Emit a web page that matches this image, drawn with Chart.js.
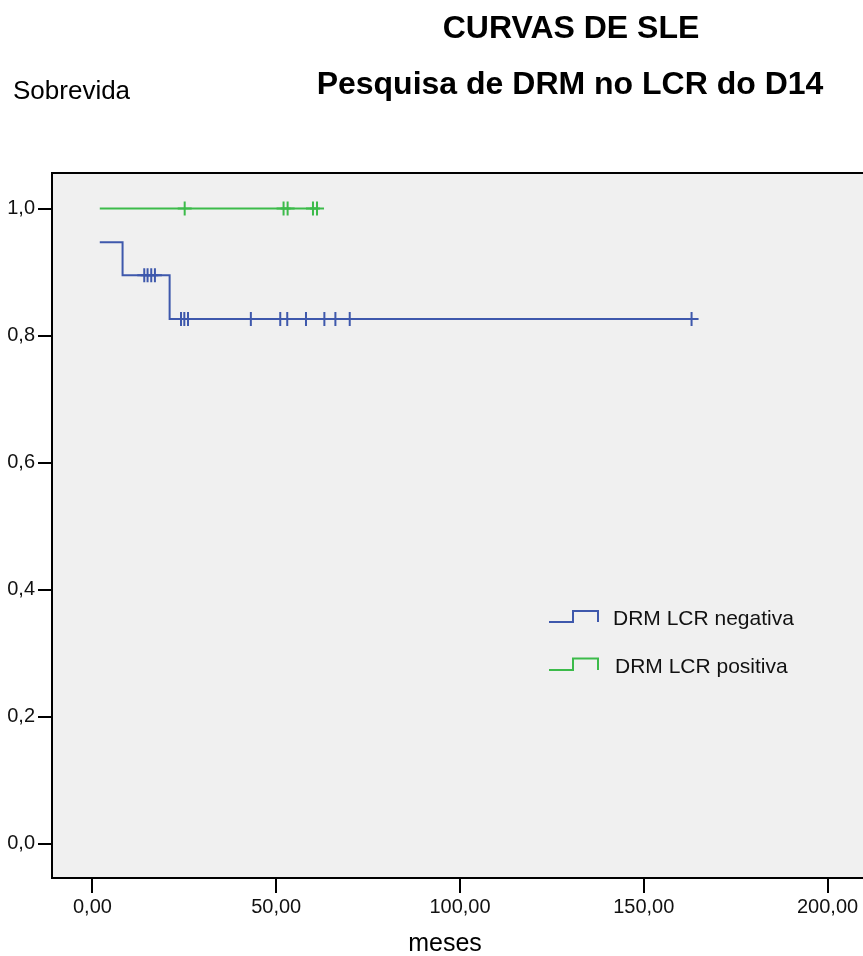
<!DOCTYPE html>
<html>
<head>
<meta charset="utf-8">
<title>CURVAS DE SLE</title>
<script src="https://cdn.jsdelivr.net/npm/chart.js@4/dist/chart.umd.min.js"></script>
<style>
  html, body { margin: 0; padding: 0; background: #ffffff; overflow: hidden; }
  #wrap { position: relative; width: 880px; height: 956px; }
</style>
</head>
<body>
<div id="wrap"><canvas id="km" width="880" height="956"></canvas></div>
<script>
// Kaplan-Meier estimates (months, cumulative survival)
const negTimes = [2.0, 8.2, 21.0, 163.0];
const negSurv = [0.947, 0.895, 0.826, 0.826];
const negCensorTimes = [14.1, 15.0, 16.0, 17.0, 24.1, 25.0, 26.0, 43.1, 51.1, 53.0, 58.1, 63.1, 66.1, 70.0, 163.0];
const negCensorSurv = [0.895, 0.895, 0.895, 0.895, 0.826, 0.826, 0.826, 0.826, 0.826, 0.826, 0.826, 0.826, 0.826, 0.826, 0.826];

const posTimes = [2.0, 61.1];
const posSurv = [1.0, 1.0];
const posCensorTimes = [25.1, 52.0, 53.1, 60.0, 61.1];
const posCensorSurv = [1.0, 1.0, 1.0, 1.0, 1.0];

const seriesNames = ['DRM LCR negativa', 'DRM LCR positiva'];
const xTickValues = [0, 50, 100, 150, 200];
const yTickValues = [0, 0.2, 0.4, 0.6, 0.8, 1.0];
const titleLines = ['CURVAS DE SLE', 'Pesquisa de DRM no LCR do D14'];
const yAxisTitle = 'Sobrevida';
const xAxisTitle = 'meses';

const BLUE = '#3E58AC';
const GREEN = '#3CBB4A';
const FONT = '"Liberation Sans", Arial, sans-serif';

const toXY = (xs, ys) => xs.map((x, i) => ({ x: x, y: ys[i] }));

const stepStyle = (color) => ({
  borderColor: color,
  borderWidth: 2,
  stepped: true,
  pointRadius: 0,
  fill: false,
  tension: 0
});
const censorStyle = (color) => ({
  borderColor: color,
  backgroundColor: color,
  borderWidth: 2,
  pointStyle: 'cross',
  pointRadius: 7,
  showLine: false
});

// Plot background and frame
const framePlugin = {
  id: 'frame',
  beforeDraw(chart) {
    const { ctx, chartArea: a } = chart;
    ctx.save();
    ctx.fillStyle = '#F0F0F0';
    ctx.fillRect(a.left, a.top, a.right - a.left, a.bottom - a.top);
    ctx.restore();
  },
  beforeDatasetsDraw(chart) {
    const { ctx, chartArea: a } = chart;
    ctx.save();
    ctx.strokeStyle = '#000000';
    ctx.lineWidth = 2;
    ctx.strokeRect(a.left, a.top, a.right - a.left, a.bottom - a.top);
    ctx.restore();
  }
};

// Titles, axis names and the step-shaped legend
const textPlugin = {
  id: 'texts',
  afterDraw(chart) {
    const ctx = chart.ctx;
    ctx.save();
    ctx.fillStyle = '#000000';
    ctx.textBaseline = 'alphabetic';

    ctx.font = 'bold 32px ' + FONT;
    ctx.textAlign = 'center';
    ctx.fillText(titleLines[0], 571, 38);
    ctx.fillText(titleLines[1], 570, 94);

    ctx.font = '26px ' + FONT;
    ctx.textAlign = 'left';
    ctx.fillText(yAxisTitle, 13, 99);

    ctx.font = '25px ' + FONT;
    ctx.textAlign = 'center';
    ctx.fillText(xAxisTitle, 445, 951);

    const items = [
      { color: BLUE, base: 622, top: 611, text: seriesNames[0], tx: 613, ty: 625 },
      { color: GREEN, base: 670, top: 658.5, text: seriesNames[1], tx: 615, ty: 673 }
    ];
    items.forEach(it => {
      ctx.strokeStyle = it.color;
      ctx.lineWidth = 2;
      ctx.beginPath();
      ctx.moveTo(549, it.base);
      ctx.lineTo(573, it.base);
      ctx.lineTo(573, it.top);
      ctx.lineTo(598, it.top);
      ctx.lineTo(598, it.base);
      ctx.stroke();
      ctx.font = '21px ' + FONT;
      ctx.textAlign = 'left';
      ctx.fillStyle = '#111111';
      ctx.fillText(it.text, it.tx, it.ty);
    });
    ctx.restore();
  }
};

new Chart(document.getElementById('km'), {
  type: 'line',
  data: {
    datasets: [
      Object.assign({ label: seriesNames[0], data: toXY(negTimes, negSurv) }, stepStyle(BLUE)),
      Object.assign({ label: seriesNames[0] + ' (censurado)', data: toXY(negCensorTimes, negCensorSurv) }, censorStyle(BLUE)),
      Object.assign({ label: seriesNames[1], data: toXY(posTimes, posSurv) }, stepStyle(GREEN)),
      Object.assign({ label: seriesNames[1] + ' (censurado)', data: toXY(posCensorTimes, posCensorSurv) }, censorStyle(GREEN))
    ]
  },
  options: {
    responsive: false,
    animation: false,
    devicePixelRatio: 1,
    layout: { padding: { top: 173, right: 12, bottom: 38, left: 0 } },
    plugins: {
      legend: { display: false },
      title: { display: false },
      tooltip: { enabled: false }
    },
    scales: {
      x: {
        type: 'linear',
        min: -11,
        max: 211,
        afterFit(scale) { scale.height = 40; },
        afterBuildTicks(scale) { scale.ticks = xTickValues.map(v => ({ value: v })); },
        grid: { display: true, drawOnChartArea: false, drawTicks: true, tickLength: 15, color: '#000000', lineWidth: 2 },
        border: { display: false },
        ticks: {
          padding: 2,
          color: '#111111',
          font: { family: FONT, size: 20 },
          maxRotation: 0,
          callback: v => Number(v).toFixed(2).replace('.', ',')
        }
      },
      y: {
        type: 'linear',
        min: -0.054,
        max: 1.056,
        afterFit(scale) { scale.width = 52; },
        afterBuildTicks(scale) { scale.ticks = yTickValues.map(v => ({ value: v })); },
        grid: { display: true, drawOnChartArea: false, drawTicks: true, tickLength: 14, color: '#000000', lineWidth: 2 },
        border: { display: false },
        ticks: {
          padding: 3,
          color: '#111111',
          font: { family: FONT, size: 20 },
          callback: v => Number(v).toFixed(1).replace('.', ',')
        }
      }
    }
  },
  plugins: [framePlugin, textPlugin]
});
</script>
</body>
</html>
